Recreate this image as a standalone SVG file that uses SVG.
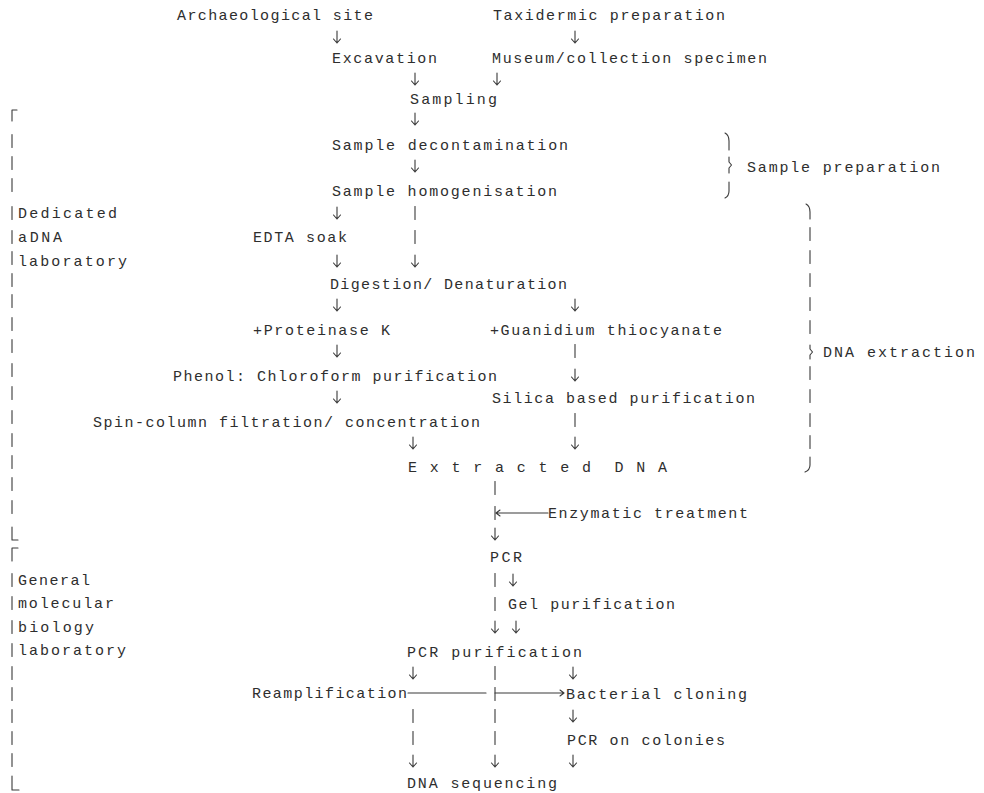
<svg xmlns="http://www.w3.org/2000/svg" xmlns:xlink="http://www.w3.org/1999/xlink" width="984" height="793" viewBox="0 0 984 793">
<style>
text{font-family:"Liberation Mono","DejaVu Sans Mono",monospace;font-size:15px;fill:#2e2e2e;}
.c{fill:none;stroke:#3a3a3a;stroke-width:1.1;stroke-linecap:round;stroke-linejoin:round;}
</style>
<defs>
<path id="dn" class="c" d="M0,-6 V6 M-3.5,2 L0,6 L3.5,2"/>
<path id="vb" class="c" d="M0,-6.5 V6.5"/>
</defs>
<rect width="984" height="793" fill="#ffffff"/>

<g id="n-arch"><text x="177" y="20" textLength="196" lengthAdjust="spacing">Archaeological site</text></g>
<g id="n-taxi"><text x="493" y="20" textLength="232" lengthAdjust="spacing">Taxidermic preparation</text></g>
<g id="n-exc"><text x="332" y="63" textLength="105" lengthAdjust="spacing">Excavation</text></g>
<g id="n-mus"><text x="492" y="63" textLength="275" lengthAdjust="spacing">Museum/collection specimen</text></g>
<g id="n-samp"><text x="410" y="104" textLength="87" lengthAdjust="spacing">Sampling</text></g>
<g id="n-decon"><text x="332" y="150" textLength="236" lengthAdjust="spacing">Sample decontamination</text></g>
<g id="n-homog"><text x="332" y="196" textLength="225" lengthAdjust="spacing">Sample homogenisation</text></g>
<g id="n-edta"><text x="253" y="242" textLength="94" lengthAdjust="spacing">EDTA soak</text></g>
<g id="n-dig"><text x="330" y="289" textLength="237" lengthAdjust="spacing">Digestion/ Denaturation</text></g>
<g id="n-protk"><text x="253" y="335" textLength="137" lengthAdjust="spacing">+Proteinase K</text></g>
<g id="n-guan"><text x="490" y="335" textLength="232" lengthAdjust="spacing">+Guanidium thiocyanate</text></g>
<g id="n-phenol"><text x="173" y="381" textLength="324" lengthAdjust="spacing">Phenol: Chloroform purification</text></g>
<g id="n-silica"><text x="492" y="403" textLength="263" lengthAdjust="spacing">Silica based purification</text></g>
<g id="n-spin"><text x="93" y="427" textLength="387" lengthAdjust="spacing">Spin-column filtration/ concentration</text></g>
<g id="n-extr"><text x="408" y="472" textLength="259" lengthAdjust="spacing" xml:space="preserve" style="white-space:pre">E x t r a c t e d  D N A</text></g>
<g id="n-enz"><text x="548" y="518" textLength="200" lengthAdjust="spacing">Enzymatic treatment</text></g>
<g id="n-pcr"><text x="490" y="562" textLength="32" lengthAdjust="spacing">PCR</text></g>
<g id="n-gel"><text x="508" y="609" textLength="167" lengthAdjust="spacing">Gel purification</text></g>
<g id="n-pcrpur"><text x="407" y="657" textLength="175" lengthAdjust="spacing">PCR purification</text></g>
<g id="n-reamp"><text x="252" y="698" textLength="155" lengthAdjust="spacing">Reamplification</text></g>
<g id="n-bact"><text x="566" y="699" textLength="181" lengthAdjust="spacing">Bacterial cloning</text></g>
<g id="n-colon"><text x="567" y="745" textLength="158" lengthAdjust="spacing">PCR on colonies</text></g>
<g id="n-seq"><text x="407" y="788" textLength="150" lengthAdjust="spacing">DNA sequencing</text></g>

<g id="lab-adna">
<path class="c" d="M17,110 H12 V121 M12,134.5 V147.5 M12,156.5 V169.5 M12,178.5 V191.5 M12,206.5 V219.5 M12,230.5 V243.5 M12,251.5 V264.5 M12,273.5 V286.5 M12,294.5 V307.5 M12,317.5 V330.5 M12,339.5 V352.5 M12,363.5 V376.5 M12,386.5 V399.5 M12,410.5 V423.5 M12,433.5 V446.5 M12,455.5 V468.5 M12,477.5 V490.5 M12,500.5 V513.5 M12,527 V540 H18"/>
<text x="18" y="218" textLength="99" lengthAdjust="spacing">Dedicated</text>
<text x="18" y="242" textLength="44" lengthAdjust="spacing">aDNA</text>
<text x="18" y="266" textLength="109" lengthAdjust="spacing">laboratory</text>
</g>
<g id="lab-gen">
<path class="c" d="M18,548 H12 V561 M12,573.5 V586.5 M12,596.5 V609.5 M12,620.5 V633.5 M12,643.5 V656.5 M12,666.5 V679.5 M12,687.5 V700.5 M12,709.5 V722.5 M12,731.5 V744.5 M12,753.5 V766.5 M12,776 V790 H19"/>
<text x="18" y="585" textLength="72" lengthAdjust="spacing">General</text>
<text x="18" y="608" textLength="96" lengthAdjust="spacing">molecular</text>
<text x="18" y="632" textLength="76" lengthAdjust="spacing">biology</text>
<text x="18" y="655" textLength="108" lengthAdjust="spacing">laboratory</text>
</g>
<g id="lab-sprep">
<path class="c" d="M725,133 Q729,135 729,141 V150 M729,157 V162 L731.5,165 L729,168 V173 M729,182 V191 Q729,196 725,198"/>
<text x="747" y="172" textLength="193" lengthAdjust="spacing">Sample preparation</text>
</g>
<g id="lab-dnaext">
<path class="c" d="M806,204 Q810,206 810,212 V219 M810,227.5 V240.5 M810,250.5 V263.5 M810,273.5 V286.5 M810,297.5 V310.5 M810,320.5 V333.5 M810,345 V349 L812.5,352 L810,355 V359 M810,366.5 V379.5 M810,389.5 V402.5 M810,413.5 V426.5 M810,435.5 V448.5 M810,457 V465 Q810,470 805,472"/>
<text x="823" y="357" textLength="152" lengthAdjust="spacing">DNA extraction</text>
</g>

<g id="connectors">
<use xlink:href="#dn" x="337" y="37"/>
<use xlink:href="#dn" x="575" y="37"/>
<use xlink:href="#dn" x="415" y="79"/>
<use xlink:href="#dn" x="497" y="79"/>
<use xlink:href="#dn" x="415" y="119"/>
<use xlink:href="#dn" x="415" y="166"/>
<use xlink:href="#dn" x="337" y="213"/>
<use xlink:href="#vb" x="415" y="213"/>
<use xlink:href="#vb" x="415" y="237"/>
<use xlink:href="#dn" x="337" y="261"/>
<use xlink:href="#dn" x="415" y="261"/>
<use xlink:href="#dn" x="337" y="305"/>
<use xlink:href="#dn" x="575" y="305"/>
<use xlink:href="#dn" x="337" y="351"/>
<use xlink:href="#vb" x="575" y="351"/>
<use xlink:href="#dn" x="575" y="375"/>
<use xlink:href="#dn" x="337" y="397"/>
<use xlink:href="#vb" x="575" y="420"/>
<use xlink:href="#dn" x="413" y="443"/>
<use xlink:href="#dn" x="575" y="443"/>
<use xlink:href="#vb" x="495" y="488"/>
<use xlink:href="#vb" x="495" y="513"/>
<path class="c" d="M496,513 H548 M500,510 L496,513 L500,516"/>
<use xlink:href="#dn" x="495" y="534"/>
<use xlink:href="#vb" x="495" y="580"/>
<use xlink:href="#dn" x="513" y="580"/>
<use xlink:href="#vb" x="495" y="604"/>
<use xlink:href="#dn" x="495" y="627"/>
<use xlink:href="#dn" x="516" y="627"/>
<use xlink:href="#dn" x="413" y="673"/>
<use xlink:href="#vb" x="495" y="673"/>
<use xlink:href="#dn" x="573" y="673"/>
<path class="c" d="M408,693 H486"/>
<use xlink:href="#vb" x="495" y="694"/>
<path class="c" d="M495,693 H564 M560,690 L564,693 L560,696"/>
<use xlink:href="#vb" x="413" y="716"/>
<use xlink:href="#vb" x="495" y="716"/>
<use xlink:href="#dn" x="573" y="716"/>
<use xlink:href="#vb" x="413" y="738"/>
<use xlink:href="#vb" x="495" y="738"/>
<use xlink:href="#dn" x="413" y="761"/>
<use xlink:href="#dn" x="495" y="761"/>
<use xlink:href="#dn" x="573" y="761"/>
</g>
</svg>
